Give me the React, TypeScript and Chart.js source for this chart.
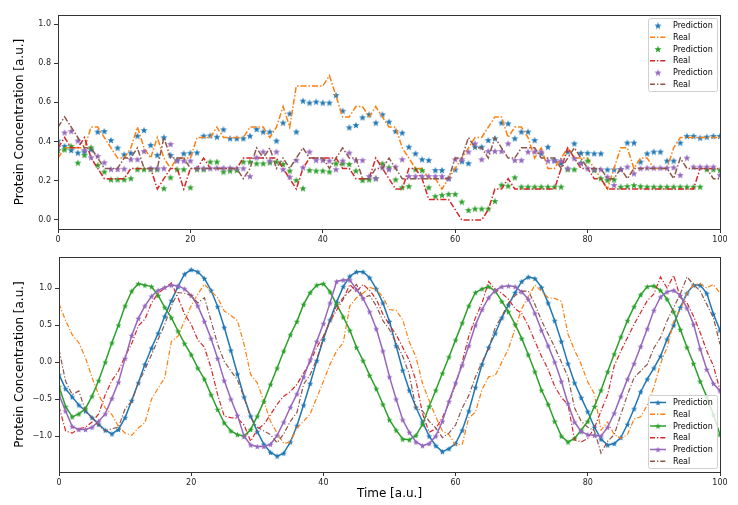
import React, { useEffect, useRef } from 'react';
import { Chart, registerables } from 'chart.js';
Chart.register(...registerables);

const FONT = 'DejaVu Sans';
const COLORS = ['#1f77b4', '#ff7f0e', '#2ca02c', '#d62728', '#9467bd', '#8c564b'];

const times = Array.from({ length: 101 }, (_, i) => i);
const xTicks = [0, 20, 40, 60, 80, 100];
const topYTicks = [0, 0.2, 0.4, 0.6, 0.8, 1.0];
const bottomYTicks = [-1.0, -0.5, 0, 0.5, 1.0];
const legendLabels = ['Prediction', 'Real', 'Prediction', 'Real', 'Prediction', 'Real'];

// ---------- top panel ----------
const topPred1 = [
  .405, .378, .357, .344, .35, .36, .451, .454, .408, .369,
  .335, .343, .43, .459, .383, .332, .422, .332, .306, .34,
  .343, .345, .43, .432, .425, .463, .417, .417, .417, .43,
  .464, .451, .451, .405, .497, .544, .451, .609, .599, .604,
  .599, .599, .638, .558, .473, .485, .524, .539, .497, .539,
  .502, .454, .446, .374, .34, .31, .306, .255, .255, .213,
  .258, .3, .29, .374, .374, .408, .417, .497, .493, .417,
  .451, .451, .408, .34, .374, .306, .29, .349, .391, .343,
  .343, .34, .34, .258, .258, .26, .395, .395, .298, .34,
  .349, .349, .303, .303, .395, .429, .429, .42, .425, .429, .429,
];
const topReal1 = [
  .316, .368, .368, .368, .368, .474, .474, .421, .368, .316,
  .316, .368, .474, .368, .316, .421, .316, .263, .316, .316,
  .316, .421, .421, .421, .474, .421, .421, .421, .421, .474,
  .474, .474, .421, .474, .579, .474, .684, .684, .684, .684,
  .684, .737, .632, .526, .526, .579, .579, .526, .579, .526,
  .474, .474, .368, .316, .263, .263, .211, .211, .158, .211,
  .263, .316, .368, .421, .421, .474, .526, .526, .421, .474,
  .474, .421, .316, .368, .263, .263, .316, .368, .316, .316,
  .316, .263, .211, .158, .263, .368, .368, .263, .316, .316,
  .263, .263, .263, .368, .421, .421, .421, .421, .421, .421, .421,
];
const topPred2 = [
  .357, .36, .378, .293, .332, .371, .281, .247, .207, .207,
  .207, .213, .259, .259, .259, .259, .162, .218, .259, .259,
  .167, .259, .259, .298, .298, .247, .252, .255, .298, .298,
  .289, .289, .294, .298, .286, .252, .204, .162, .255, .252,
  .252, .247, .289, .289, .286, .252, .204, .207, .213, .289,
  .269, .207, .167, .173, .259, .255, .167, .122, .128, .133,
  .133, .094, .051, .058, .058, .058, .097, .18, .175, .218,
  .17, .17, .17, .17, .17, .17, .17, .259, .259, .293,
  .303, .255, .213, .204, .207, .17, .173, .178, .173, .17,
  .17, .17, .17, .17, .17, .17, .17, .17, .259, .259, .255,
];
const topReal2 = [
  .368, .421, .368, .368, .421, .316, .263, .211, .211, .211,
  .211, .263, .263, .263, .263, .158, .211, .263, .263, .158,
  .263, .263, .316, .263, .263, .263, .263, .263, .316, .316,
  .316, .316, .316, .316, .263, .211, .158, .263, .316, .316,
  .316, .316, .316, .263, .263, .211, .211, .211, .316, .263,
  .211, .158, .158, .263, .263, .211, .105, .105, .105, .105,
  .053, 0, 0, 0, 0, .053, .158, .158, .211, .158,
  .158, .158, .158, .158, .158, .158, .263, .368, .316, .263,
  .263, .211, .211, .158, .158, .158, .158, .158, .158, .158,
  .158, .158, .158, .158, .158, .158, .158, .263, .263, .263, .263,
];
const topPred3 = [
  .374, .447, .454, .405, .357, .32, .327, .294, .26, .26,
  .262, .31, .31, .352, .264, .264, .264, .388, .303, .303,
  .303, .264, .264, .264, .267, .267, .267, .264, .264, .224,
  .32, .349, .303, .349, .259, .221, .306, .269, .349, .306,
  .306, .303, .259, .303, .344, .306, .306, .224, .213, .269,
  .259, .272, .31, .224, .224, .224, .224, .224, .224, .213,
  .31, .31, .349, .391, .31, .352, .352, .352, .391, .306,
  .306, .349, .349, .349, .303, .303, .303, .264, .315, .29,
  .264, .259, .259, .221, .179, .259, .272, .238, .264, .267,
  .267, .267, .267, .269, .23, .318, .272, .272, .272, .272, .23,
];
const topReal3 = [
  .474, .526, .474, .421, .368, .368, .316, .263, .263, .263,
  .316, .316, .368, .263, .263, .263, .421, .316, .316, .316,
  .263, .263, .263, .263, .263, .263, .263, .263, .211, .263,
  .368, .316, .368, .263, .316, .263, .316, .368, .316, .316,
  .316, .263, .316, .368, .316, .316, .211, .211, .263, .263,
  .316, .263, .211, .211, .211, .211, .211, .211, .211, .211,
  .316, .316, .421, .368, .368, .316, .421, .368, .316, .316,
  .368, .368, .368, .316, .316, .316, .263, .316, .368, .316,
  .263, .263, .263, .211, .211, .263, .211, .263, .263, .263,
  .263, .263, .263, .211, .316, .263, .263, .263, .263, .211, .211,
];

// ---------- bottom panel ----------
const botPred1 = [
  -0.17, -0.36, -0.47, -0.58, -0.66, -0.75, -0.84, -0.92, -0.97, -0.91,
  -0.75, -0.52, -0.28, -0.03, 0.19, 0.39, 0.62, 0.83, 1.02, 1.19,
  1.25, 1.22, 1.13, 0.97, 0.75, 0.47, 0.16, -0.16, -0.47, -0.73,
  -0.94, -1.11, -1.22, -1.27, -1.23, -1.08, -0.86, -0.58, -0.29, 0.02,
  0.31, 0.57, 0.81, 1.02, 1.16, 1.22, 1.22, 1.14, 0.99, 0.8,
  0.55, 0.22, -0.11, -0.38, -0.61, -0.81, -1.0, -1.13, -1.21, -1.17,
  -1.1, -0.92, -0.66, -0.34, -0.03, 0.2, 0.39, 0.6, 0.77, 0.94,
  1.09, 1.15, 1.13, 1.01, 0.8, 0.56, 0.28, -0.02, -0.28, -0.48,
  -0.67, -0.88, -1.04, -1.12, -1.1, -1.02, -0.84, -0.63, -0.4, -0.23,
  -0.08, 0.08, 0.31, 0.5, 0.74, 0.93, 1.04, 1.04, 0.93, 0.65, 0.43,
];
const botReal1 = [
  0.79, 0.56, 0.37, 0.26, 0.06, -0.21, -0.44, -0.62, -0.71, -0.87,
  -0.96, -0.99, -0.89, -0.82, -0.5, -0.35, -0.21, 0.28, 0.35, 0.56,
  0.76, 0.92, 1.05, 0.96, 0.87, 0.69, 0.63, 0.56, 0.24, -0.17,
  -0.28, -0.53, -0.8, -0.96, -1.1, -1.08, -0.89, -0.8, -0.7, -0.48,
  -0.26, -0.03, 0.15, 0.26, 0.76, 0.87, 0.93, 1.01, 0.98, 0.88,
  0.71, 0.7, 0.57, 0.27, 0.07, -0.29, -0.52, -0.74, -0.93, -0.98,
  -1.12, -1.11, -0.75, -0.68, -0.37, -0.2, -0.18, 0.0, 0.18, 0.45,
  0.72, 0.89, 1.04, 0.96, 0.87, 0.86, 0.82, 0.38, 0.16, -0.03,
  -0.27, -0.43, -0.92, -0.81, -0.98, -1.03, -0.98, -0.77, -0.74, -0.58,
  -0.34, -0.02, 0.2, 0.55, 0.71, 0.93, 1.04, 1.06, 1.0, 1.05, 0.93,
];
const botPred2 = [
  -0.33, -0.6, -0.74, -0.7, -0.63, -0.46, -0.25, 0.0, 0.26, 0.5,
  0.76, 0.96, 1.06, 1.04, 1.02, 0.9, 0.74, 0.6, 0.42, 0.25,
  0.1, -0.08, -0.23, -0.44, -0.64, -0.82, -0.93, -0.98, -1.0, -0.91,
  -0.73, -0.53, -0.3, -0.08, 0.15, 0.37, 0.55, 0.78, 0.94, 1.04,
  1.06, 0.95, 0.78, 0.61, 0.43, 0.2, 0.02, -0.18, -0.36, -0.57,
  -0.78, -0.92, -1.04, -1.05, -0.99, -0.84, -0.6, -0.38, -0.15, 0.07,
  0.3, 0.53, 0.76, 0.94, 0.99, 1.02, 0.96, 0.82, 0.68, 0.51,
  0.32, 0.1, -0.13, -0.38, -0.57, -0.8, -1.0, -1.08, -1.03, -0.92,
  -0.8, -0.6, -0.38, -0.13, 0.11, 0.34, 0.56, 0.75, 0.91, 1.02,
  1.03, 0.97, 0.85, 0.68, 0.44, 0.2, -0.02, -0.26, -0.47, -0.71, -0.98,
];
const botReal2 = [
  -0.6, -0.93, -0.96, -0.9, -0.88, -0.81, -0.7, -0.44, -0.25, -0.12,
  0.08, 0.25, 0.49, 0.58, 0.8, 0.93, 1.0, 1.07, 0.87, 0.65,
  0.51, 0.3, 0.2, -0.08, -0.44, -0.73, -0.75, -0.76, -0.85, -1.07,
  -0.91, -0.84, -0.71, -0.57, -0.46, -0.4, -0.3, -0.15, 0.0, 0.2,
  0.35, 0.55, 0.7, 0.85, 1.05, 0.95, 1.05, 0.97, 0.85, 0.65,
  0.5, 0.37, 0.2, 0.02, -0.25, -0.7, -0.95, -0.9, -0.75, -0.55,
  -0.3, 0.0, 0.35, 0.6, 0.8, 1.09, 0.98, 0.93, 0.85, 0.72,
  0.66, 0.49, 0.28, 0.08, -0.1, -0.33, -0.48, -0.57, -1.05, -1.08,
  -1.03, -0.89, -0.66, -0.44, -0.05, 0.15, 0.33, 0.51, 0.67, 0.83,
  0.92, 1.15, 1.0, 1.17, 0.87, 0.8, 0.62, 0.4, 0.15, -0.05, -0.38,
];
const botPred3 = [
  -0.44, -0.66, -0.87, -0.91, -0.91, -0.88, -0.8, -0.7, -0.49, -0.27,
  0.05, 0.36, 0.59, 0.76, 0.89, 0.97, 1.01, 1.04, 1.03, 0.99,
  0.9, 0.76, 0.55, 0.32, 0.05, -0.25, -0.5, -0.72, -1.0, -1.12,
  -1.14, -1.14, -1.11, -0.99, -0.81, -0.61, -0.43, -0.2, 0.03, 0.28,
  0.52, 0.8, 1.09, 1.11, 1.11, 0.98, 0.86, 0.68, 0.45, 0.15,
  -0.2, -0.5, -0.78, -0.95, -1.08, -1.13, -1.1, -1.0, -0.8, -0.53,
  -0.28, -0.04, 0.22, 0.5, 0.71, 0.87, 0.97, 1.02, 1.03, 1.02,
  0.95, 0.85, 0.66, 0.43, 0.22, 0.0, -0.26, -0.56, -0.81, -0.94,
  -0.98, -0.99, -1.0, -0.88, -0.69, -0.46, -0.23, -0.02, 0.21, 0.45,
  0.7, 0.88, 0.95, 0.97, 0.9, 0.73, 0.51, 0.18, -0.1, -0.29, -0.39,
];
const botReal3 = [
  0.17, -0.26, -0.44, -0.39, -0.66, -0.75, -0.86, -0.93, -0.9, -0.88,
  -0.63, -0.53, -0.28, -0.1, 0.1, 0.31, 0.51, 0.76, 0.94, 0.93,
  0.9, 0.8, 0.87, 0.56, 0.24, 0.01, -0.12, -0.24, -0.48, -0.75,
  -0.88, -0.93, -0.98, -1.09, -0.97, -0.8, -0.68, -0.3, -0.17, 0.04,
  0.33, 0.56, 0.76, 0.87, 0.96, 1.05, 0.87, 0.9, 0.76, 0.56,
  0.44, 0.26, 0.08, -0.17, -0.62, -0.66, -0.8, -0.89, -1.02, -0.96,
  -0.85, -0.62, -0.45, -0.2, 0.0, 0.18, 0.47, 0.62, 0.8, 0.9,
  0.96, 0.96, 0.78, 0.56, 0.38, 0.2, 0.0, -0.2, -0.62, -0.8,
  -0.88, -0.93, -1.23, -1.07, -0.98, -0.71, -0.44, -0.21, -0.12, -0.03,
  0.19, 0.33, 0.56, 0.74, 0.92, 1.15, 1.05, 0.96, 0.78, 0.6, 0.24,
];

function makeStar(color: string, size: number): HTMLCanvasElement {
  const c = document.createElement('canvas');
  c.width = size;
  c.height = size;
  const ctx = c.getContext('2d')!;
  const cx = size / 2, cy = size / 2 + size * 0.05;
  const R = size / 2 - 0.3, r = R * 0.42;
  ctx.beginPath();
  for (let i = 0; i < 10; i++) {
    const a = -Math.PI / 2 + (i * Math.PI) / 5;
    const rad = i % 2 === 0 ? R : r;
    ctx.lineTo(cx + rad * Math.cos(a), cy + rad * Math.sin(a));
  }
  ctx.closePath();
  ctx.fillStyle = color;
  ctx.fill();
  return c;
}

const toPts = (arr: number[]) => times.map((t, i) => ({ x: t, y: arr[i] }));

const framePlugin = {
  id: 'frame',
  afterDatasetsDraw(chart: any) {
    const { ctx, chartArea: a } = chart;
    ctx.save();
    ctx.strokeStyle = '#333';
    ctx.lineWidth = 1;
    ctx.strokeRect(Math.round(a.left) + 0.5, Math.round(a.top) + 0.5, Math.round(a.right - a.left), Math.round(a.bottom - a.top));
    ctx.restore();
  },
};

function legendPlugin(where: 'top' | 'bottom', withLines: boolean) {
  return {
    id: 'customLegend',
    afterDraw(chart: any) {
      const { ctx, chartArea: a } = chart;
      const w = 69, h = 73;
      const x0 = Math.round(a.right - 3.5 - w) + 0.5;
      const y0 = where === 'top' ? Math.round(a.top + 3) + 0.5 : Math.round(a.bottom - 4 - h) + 0.5;
      ctx.save();
      ctx.beginPath();
      const r = 2;
      ctx.moveTo(x0 + r, y0);
      ctx.lineTo(x0 + w - r, y0);
      ctx.quadraticCurveTo(x0 + w, y0, x0 + w, y0 + r);
      ctx.lineTo(x0 + w, y0 + h - r);
      ctx.quadraticCurveTo(x0 + w, y0 + h, x0 + w - r, y0 + h);
      ctx.lineTo(x0 + r, y0 + h);
      ctx.quadraticCurveTo(x0, y0 + h, x0, y0 + h - r);
      ctx.lineTo(x0, y0 + r);
      ctx.quadraticCurveTo(x0, y0, x0 + r, y0);
      ctx.closePath();
      ctx.fillStyle = 'rgba(255,255,255,0.8)';
      ctx.fill();
      ctx.strokeStyle = '#d0d0d0';
      ctx.lineWidth = 1;
      ctx.stroke();
      ctx.font = `8px "${FONT}"`;
      ctx.textBaseline = 'middle';
      ctx.textAlign = 'left';
      chart.data.datasets.forEach((ds: any, i: number) => {
        const y = y0 + 7 + i * 11.75;
        const isPred = i % 2 === 0;
        if (!isPred || withLines) {
          ctx.beginPath();
          ctx.strokeStyle = COLORS[i];
          ctx.lineWidth = isPred ? 1.5 : 1.3;
          ctx.setLineDash(isPred ? [] : [5, 2, 1.3, 2]);
          ctx.moveTo(x0 + 1.5, y);
          ctx.lineTo(x0 + 17.5, y);
          ctx.stroke();
          ctx.setLineDash([]);
        }
        if (isPred) {
          const s = ds.pointStyle as HTMLCanvasElement;
          ctx.drawImage(s, x0 + 9.5 - s.width / 2, y - s.height / 2);
        }
        ctx.fillStyle = '#000';
        ctx.fillText(legendLabels[i], x0 + 24.5, y + 0.5);
      });
      ctx.restore();
    },
  };
}

const tickFont = { family: FONT, size: 8 };
const titleFont = { family: FONT, size: 12 };

function fixedTicks(list: number[]) {
  return (scale: any) => {
    scale.ticks = list.map((v) => ({ value: v }));
  };
}

function axisX(height: number, withTitle: boolean) {
  return {
    type: 'linear' as const,
    min: 0,
    max: 100,
    afterBuildTicks: fixedTicks(xTicks),
    afterFit: (s: any) => { s.height = height; },
    ticks: { font: tickFont, color: '#222', padding: 2, maxRotation: 0, autoSkip: false, callback: (v: any) => String(v) },
    grid: { drawOnChartArea: false, drawTicks: true, tickLength: 4, tickColor: '#333', tickWidth: 1 },
    border: { display: false },
    title: withTitle
      ? { display: true, text: 'Time [a.u.]', font: titleFont, color: '#000', padding: { top: 0, bottom: 4 } }
      : { display: false },
  };
}

function axisY(min: number, max: number, ticks: number[], width: number) {
  return {
    type: 'linear' as const,
    min,
    max,
    afterBuildTicks: fixedTicks(ticks),
    afterFit: (s: any) => { s.width = width; },
    ticks: {
      font: tickFont,
      color: '#222',
      padding: 3,
      autoSkip: false,
      callback: (v: any) => (Number(v) < 0 ? '\u2212' + Math.abs(Number(v)).toFixed(1) : Number(v).toFixed(1)),
    },
    grid: { drawOnChartArea: false, drawTicks: true, tickLength: 4, tickColor: '#333', tickWidth: 1 },
    border: { display: false },
    title: { display: true, text: 'Protein Concentration [a.u.]', font: titleFont, color: '#000', padding: { top: 5, bottom: 0 } },
  };
}

export default function App() {
  const topRef = useRef<HTMLCanvasElement>(null);
  const botRef = useRef<HTMLCanvasElement>(null);

  useEffect(() => {
    const topStars = [makeStar(COLORS[0], 8), makeStar(COLORS[2], 8), makeStar(COLORS[4], 8)];
    const botStars = [makeStar(COLORS[0], 7), makeStar(COLORS[2], 7), makeStar(COLORS[4], 7)];

    const topSeries = [topPred1, topReal1, topPred2, topReal2, topPred3, topReal3];
    const topDatasets = topSeries.map((arr, i) => {
      const isPred = i % 2 === 0;
      return isPred
        ? {
            label: legendLabels[i],
            data: toPts(arr),
            showLine: false,
            pointStyle: topStars[i / 2],
            pointRadius: 4,
            borderColor: COLORS[i],
            backgroundColor: COLORS[i],
            order: 6 - i,
          }
        : {
            label: legendLabels[i],
            data: toPts(arr),
            borderColor: COLORS[i],
            backgroundColor: COLORS[i],
            borderWidth: 1.5,
            borderDash: [6, 2, 1.5, 2],
            pointRadius: 0,
            tension: 0,
            order: 6 - i,
          };
    });

    const botSeries = [botPred1, botReal1, botPred2, botReal2, botPred3, botReal3];
    const botDatasets = botSeries.map((arr, i) => {
      const isPred = i % 2 === 0;
      return isPred
        ? {
            label: legendLabels[i],
            data: toPts(arr),
            borderColor: COLORS[i],
            backgroundColor: COLORS[i],
            borderWidth: 1.5,
            pointStyle: botStars[i / 2],
            pointRadius: 3.5,
            tension: 0,
            order: 6 - i,
          }
        : {
            label: legendLabels[i],
            data: toPts(arr),
            borderColor: COLORS[i],
            backgroundColor: COLORS[i],
            borderWidth: 1.2,
            borderDash: [5, 2, 1.2, 2],
            pointRadius: 0,
            tension: 0,
            order: 6 - i,
          };
    });

    const common = {
      responsive: false,
      animation: false as const,
      events: [] as any[],
      plugins: { legend: { display: false }, tooltip: { enabled: false } },
    };

    const top = new Chart(topRef.current!, {
      type: 'line',
      data: { datasets: topDatasets as any },
      options: {
        ...common,
        layout: { padding: { left: 8, right: 18, top: 15, bottom: 0 } },
        scales: {
          x: axisX(16, false) as any,
          y: axisY(-0.046, 1.046, topYTicks, 50) as any,
        },
      },
      plugins: [framePlugin, legendPlugin('top', false)],
    });

    const bot = new Chart(botRef.current!, {
      type: 'line',
      data: { datasets: botDatasets as any },
      options: {
        ...common,
        layout: { padding: { left: 8, right: 18, top: 12, bottom: 0 } },
        scales: {
          x: axisX(33, true) as any,
          y: axisY(-1.485, 1.42, bottomYTicks, 51) as any,
        },
      },
      plugins: [framePlugin, legendPlugin('bottom', true)],
    });

    return () => {
      top.destroy();
      bot.destroy();
    };
  }, []);

  return (
    <div style={{ position: 'absolute', left: 0, top: 0, width: 738, height: 505, background: '#fff' }}>
      <canvas ref={topRef} width={738} height={245} style={{ display: 'block', width: 738, height: 245 }} />
      <canvas ref={botRef} width={738} height={260} style={{ display: 'block', width: 738, height: 260 }} />
    </div>
  );
}
